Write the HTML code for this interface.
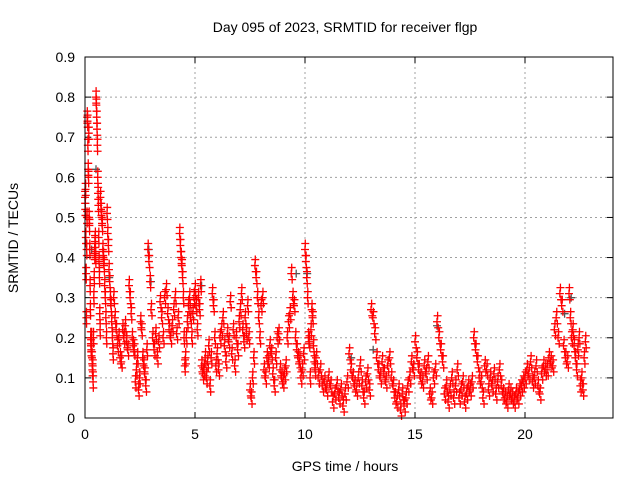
<!DOCTYPE html>
<html><head><meta charset="utf-8"><style>
body{margin:0;background:#fff;}
svg{display:block;font-family:"Liberation Sans",sans-serif;}
</style></head><body>
<svg id="chart" width="640" height="480">
<text x="345" y="32" text-anchor="middle" font-size="14">Day 095 of 2023, SRMTID for receiver flgp</text>
<text x="345" y="471" text-anchor="middle" font-size="14">GPS time / hours</text>
<text transform="translate(18,238) rotate(-90)" text-anchor="middle" font-size="14">SRMTID / TECUs</text>
<g id="grid"></g><g id="ticks"></g><g id="gray"></g><g id="red"></g>
<rect x="85" y="57" width="528" height="361" fill="none" stroke="#000" stroke-width="1"/>
</svg>
<script>
const xTicks=[0,5,10,15,20];
const yTicks=[0,0.1,0.2,0.3,0.4,0.5,0.6,0.7,0.8,0.9];
const yTickLabels=["0","0.1","0.2","0.3","0.4","0.5","0.6","0.7","0.8","0.9"];
const segStarts=[0,0.1,0.3,0.5,0.7,1.0,1.3,2,3,4.3,4.6,5.3,6,7,8,9,10,10.5,12,13,14,15,16,17,18,19,20,21,22];
const segEnds=[0.1,0.3,0.5,0.7,1.0,1.3,2,3,4.3,4.6,5.3,6,7,8,9,10,10.5,12,13,14,15,16,17,18,19,20,21,22,22.8];
const segValues=[
[0.55,0.52,0.57,0.45,0.36,0.25,0.42,0.5],
[0.75,0.74,0.68,0.62,0.6,0.71,0.5,0.48,0.42,0.33,0.27,0.2,0.18,0.17],
[0.2,0.15,0.12,0.13,0.09,0.2,0.3,0.35,0.41,0.44,0.45,0.4],
[0.8,0.78,0.75,0.72,0.68,0.6,0.56,0.53,0.45,0.39,0.35,0.26,0.22],
[0.55,0.52,0.5,0.48,0.42,0.4,0.38,0.33,0.3,0.25,0.2],
[0.51,0.46,0.43,0.37,0.34,0.3,0.28,0.24,0.2,0.16],
[0.3,0.25,0.22,0.18,0.2,0.15,0.14,0.22,0.2,0.23,0.19,0.17],
[0.33,0.3,0.26,0.2,0.18,0.17,0.09,0.12,0.15,0.07,0.1,0.24,0.22,0.15,0.13,0.11,0.08,0.17,0.42,0.39,0.34],
[0.27,0.2,0.17,0.21,0.15,0.19,0.29,0.25,0.2,0.3,0.32,0.26,0.22,0.2,0.23,0.27,0.3,0.21,0.25],
[0.46,0.43,0.4,0.38,0.35,0.3,0.2,0.13,0.15],
[0.2,0.24,0.28,0.3,0.25,0.2,0.26,0.3,0.32,0.28,0.22,0.3,0.27,0.33],
[0.13,0.11,0.12,0.15,0.1,0.14,0.18,0.08,0.15,0.31,0.28,0.2,0.13],
[0.16,0.12,0.2,0.22,0.25,0.18,0.14,0.21,0.19,0.29,0.16,0.22,0.13,0.2,0.17],
[0.24,0.27,0.31,0.22,0.19,0.25,0.21,0.28,0.2,0.07,0.05,0.1,0.15,0.38,0.35,0.3,0.25,0.2],
[0.28,0.3,0.12,0.1,0.15,0.14,0.18,0.16,0.11,0.08,0.15,0.2,0.21,0.12,0.1],
[0.09,0.11,0.13,0.2,0.24,0.26,0.36,0.3,0.28,0.2,0.17,0.15,0.14,0.1,0.12,0.16],
[0.42,0.39,0.35,0.3,0.2,0.19,0.1,0.22,0.27,0.25,0.18,0.14,0.12],
[0.15,0.1,0.12,0.08,0.09,0.07,0.1,0.08,0.04,0.06,0.08,0.05,0.07,0.03,0.06,0.09],
[0.16,0.12,0.1,0.08,0.07,0.1,0.13,0.08,0.05,0.09,0.11,0.07],
[0.27,0.25,0.21,0.15,0.12,0.1,0.14,0.11,0.09,0.13,0.15,0.1],
[0.08,0.05,0.04,0.07,0.02,0.06,0.03,0.05,0.08,0.1,0.14,0.12],
[0.19,0.15,0.12,0.1,0.09,0.13,0.11,0.14,0.06,0.05,0.1,0.12],
[0.24,0.2,0.17,0.14,0.06,0.08,0.04,0.07,0.1,0.05,0.08,0.12],
[0.05,0.07,0.09,0.04,0.06,0.08,0.07,0.09,0.2,0.17,0.14,0.1],
[0.09,0.05,0.13,0.12,0.07,0.1,0.08,0.11,0.06,0.09,0.12,0.08],
[0.06,0.05,0.04,0.07,0.06,0.05,0.04,0.06,0.05,0.07,0.08,0.09],
[0.1,0.12,0.11,0.14,0.09,0.1,0.13,0.08,0.06,0.11,0.13,0.12],
[0.12,0.15,0.14,0.13,0.22,0.25,0.2,0.31,0.28,0.18,0.15,0.14],
[0.31,0.25,0.2,0.22,0.18,0.15,0.12,0.17,0.2,0.08,0.1,0.07,0.15,0.19]
];
const grayTimes=[0.3,0.5,1.1,2.9,3.0,5.3,9.6,10.1,12.1,13.1,16.0,21.8,22.1];
const grayValues=[0.42,0.62,0.35,0.42,0.34,0.33,0.36,0.36,0.15,0.17,0.23,0.26,0.3];

const NS="http://www.w3.org/2000/svg";
const X0=85,X1=613,Y0=418,Y1=57,XMAX=24,YMAX=0.9;
function xs(t){return X0+(X1-X0)*t/XMAX;}
function ys(v){return Y0-(Y0-Y1)*v/YMAX;}
function mk(tag,attrs,parent){const e=document.createElementNS(NS,tag);for(const k in attrs)e.setAttribute(k,attrs[k]);parent.appendChild(e);return e;}
const grid=document.getElementById('grid'),ticks=document.getElementById('ticks');
xTicks.forEach(t=>{
  const x=xs(t);
  if(t>0){const g=mk('line',{x1:x,x2:x,y1:Y1,y2:Y0,stroke:'#a0a0a0','stroke-dasharray':'2,3'},grid);
  
  }
  mk('line',{x1:x,x2:x,y1:Y0,y2:Y0-6,stroke:'#000'},ticks);
  mk('line',{x1:x,x2:x,y1:Y1,y2:Y1+6,stroke:'#000'},ticks);
  const l=mk('text',{x:x,y:Y0+21,'text-anchor':'middle','font-size':'14'},ticks);
  l.textContent=String(t);
  
  
});
yTicks.forEach((v,i)=>{
  const y=ys(v);
  if(v>0&&v<0.9){const g=mk('line',{x1:X0,x2:X1,y1:y,y2:y,stroke:'#a0a0a0','stroke-dasharray':'2,3'},grid);
  
  }
  mk('line',{x1:X0,x2:X0+6,y1:y,y2:y,stroke:'#000'},ticks);
  mk('line',{x1:X1,x2:X1-6,y1:y,y2:y,stroke:'#000'},ticks);
  const l=mk('text',{x:X0-10,y:y+5,'text-anchor':'end','font-size':'14'},ticks);
  l.textContent=yTickLabels[i];
  
  
});
function plus(t,v,color,parent,name){
  const x=xs(t),y=ys(v);
  const p=mk('path',{d:`M${x-4},${y}H${x+4}M${x},${y-4}V${y+4}`,stroke:color,'stroke-width':'1.3',fill:'none'},parent);
  
  
}
const gray=document.getElementById('gray'),red=document.getElementById('red');
grayTimes.forEach((t,i)=>plus(t,grayValues[i],'#555',gray,'gray-point'));
segValues.forEach((vals,s)=>{
  const a=segStarts[s],b=segEnds[s];
  const dt=(b-a)/vals.length;
  vals.forEach((v,i)=>{
    const t=a+dt*i;
    plus(t,v,'#ff0000',red,'srmtid-point');
    plus(t+dt*0.33,v+0.015,'#ff0000',red,'srmtid-point');
    plus(t+dt*0.66,v-0.015,'#ff0000',red,'srmtid-point');
  });
});
</script>
</body></html>
